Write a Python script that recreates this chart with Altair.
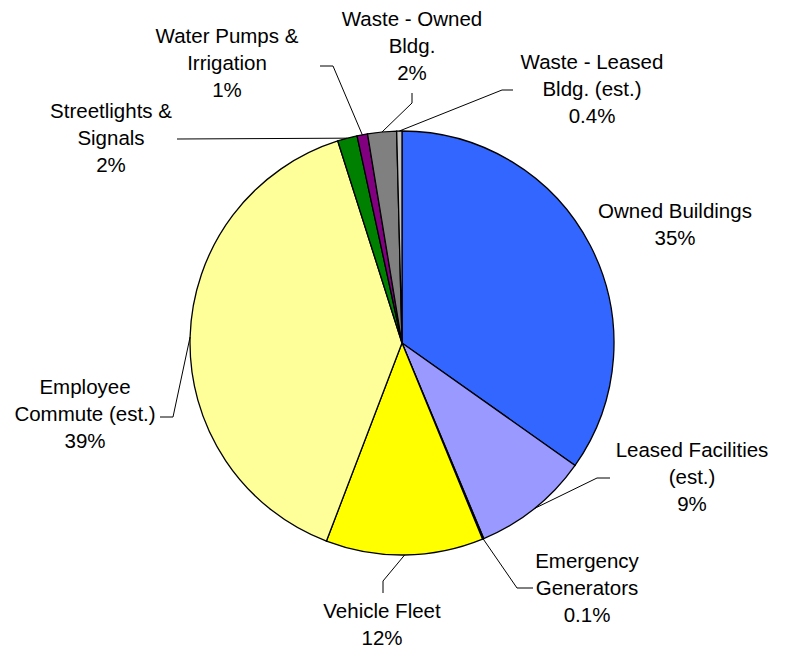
import math
import altair as alt
import pandas as pd

# ---- data ----
categories = [
    "Owned Buildings",
    "Leased Facilities|(est.)",
    "Emergency|Generators",
    "Vehicle Fleet",
    "Employee|Commute (est.)",
    "Streetlights &|Signals",
    "Water Pumps &|Irrigation",
    "Waste - Owned|Bldg.",
    "Waste - Leased|Bldg. (est.)",
]
values = [34.8, 8.9, 0.1, 12.0, 39.3, 1.5, 0.8, 2.2, 0.4]
colors = ["#3366FF", "#9999FF", "#CCFFFF", "#FFFF00", "#FFFF99",
          "#008000", "#800080", "#808080", "#C0C0C0"]

# ---- layout (chart pixel coordinates) ----
W, H = 772, 642
CX, CY, R = 394, 335, 212
# label block centres
label_pos = [(667, 217), (684, 470), (579, 581), (374, 617), (77, 407),
             (103, 131), (219, 56), (404, 39), (584, 82)]
# leader line: elbow and end (None = no leader)
leaders = [None,
           ((589, 470), (602, 470)),
           ((509, 580), (525, 580)),
           ((375, 573), (375, 585)),
           ((165, 409), (152, 409)),
           ((169, 131), (169, 131)),
           ((325, 58), (312, 58)),
           ((404, 95), (404, 85)),
           ((494, 82), (505, 82))]
LINE_H = 27

def pct_label(v):
    return f"{v:.1f}%" if v < 0.5 else f"{v:.0f}%"

total = sum(values)
names = [c.replace("|", " ") for c in categories]
pie = pd.DataFrame({"name": names, "value": values, "idx": list(range(len(values)))})

text_rows, line_rows = [], []
cum = 0.0
for i, (c, v) in enumerate(zip(categories, values)):
    mid = (cum + v / 2) / total * 2 * math.pi
    cum += v
    lines = c.split("|") + [pct_label(v)]
    lx, ly = label_pos[i]
    n = len(lines)
    for j, t in enumerate(lines):
        text_rows.append({"t": t, "x": lx, "y": ly + (j - (n - 1) / 2) * LINE_H})
    if leaders[i] is not None:
        ex, ey = CX + R * math.sin(mid), CY - R * math.cos(mid)
        pts = [(ex, ey), leaders[i][0], leaders[i][1]]
        for k, (px, py) in enumerate(pts):
            line_rows.append({"s": names[i], "k": k, "x": px, "y": py})

texts = pd.DataFrame(text_rows)
lines_df = pd.DataFrame(line_rows)

arc = alt.Chart(pie).mark_arc(radius=R, stroke="black", strokeWidth=1.3).encode(
    theta=alt.Theta("value:Q", stack=True),
    order=alt.Order("idx:Q"),
    color=alt.Color("name:N", scale=alt.Scale(domain=names, range=colors), legend=None),
    x=alt.value(CX),
    y=alt.value(CY),
)

lead = alt.Chart(lines_df).mark_line(color="black", strokeWidth=1).encode(
    x=alt.X("x:Q", scale=None, axis=None),
    y=alt.Y("y:Q", scale=None, axis=None),
    detail="s:N",
    order="k:Q",
)

txt = alt.Chart(texts).mark_text(
    font="Liberation Sans", fontSize=20.5, color="black", align="center", baseline="middle"
).encode(
    x=alt.X("x:Q", scale=None, axis=None),
    y=alt.Y("y:Q", scale=None, axis=None),
    text="t:N",
)

chart = alt.layer(arc, lead, txt).properties(
    width=W, height=H, padding=0, autosize="none"
).configure_view(stroke=None)

chart.save("out.html", embed_options={"renderer": "svg", "actions": False})
